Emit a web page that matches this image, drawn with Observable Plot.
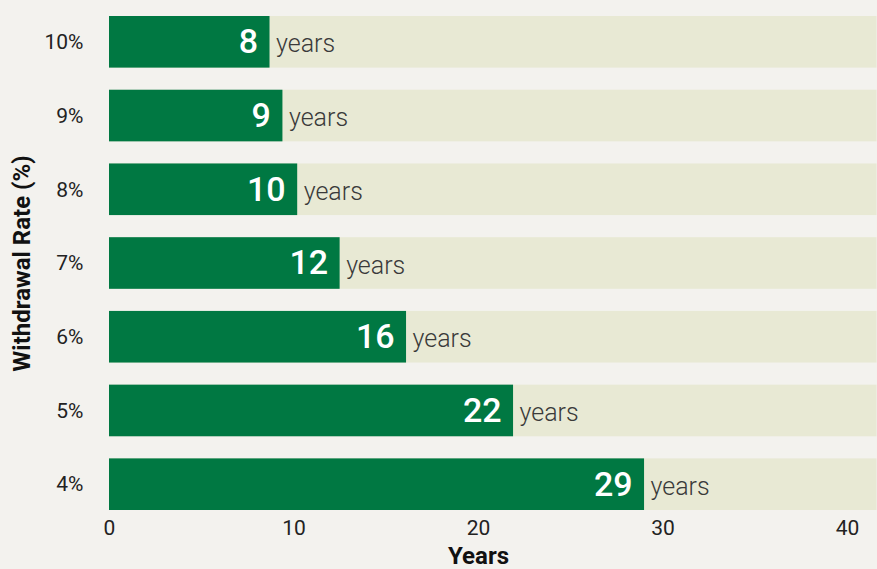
<!DOCTYPE html>
<html>
<head>
<meta charset="utf-8">
<script src="https://cdn.jsdelivr.net/npm/d3@7"></script>
<script src="https://cdn.jsdelivr.net/npm/@observablehq/plot@0.6"></script>
<style>
  html, body { margin: 0; padding: 0; background: #f3f2ee; }
  #chart svg { display: block; }
</style>
</head>
<body>
<div id="chart"></div>
<script>
// Withdrawal rates (top to bottom)
const rates = ["10%", "9%", "8%", "7%", "6%", "5%", "4%"];
// Years until depletion (bar lengths)
const years = [8.7, 9.4, 10.2, 12.5, 16.1, 21.9, 29.0];
// Printed labels
const yearLabels = ["8", "9", "10", "12", "16", "22", "29"];
// Axis ticks
const xTicks = [0, 10, 20, 30, 40];
const xMax = 41.6; // extent of the light background track

const data = rates.map((r, i) => ({rate: r, years: years[i], label: yearLabels[i]}));

const chart = Plot.plot({
  width: 877,
  height: 569,
  marginTop: 16,
  marginBottom: 59,
  marginLeft: 109,
  marginRight: 30,
  style: {background: "#f3f2ee", fontFamily: "Roboto, sans-serif", color: "#222"},
  x: {domain: [0, 40], ticks: xTicks},
  y: {domain: rates, paddingInner: 0.3, paddingOuter: 0, round: false},
  marks: [
    Plot.barX(data, {y: "rate", x1: 0, x2: () => xMax, fill: "#e8e9d4"}),
    Plot.barX(data, {y: "rate", x1: 0, x2: "years", fill: "#007842"}),
    Plot.text(data, {y: "rate", x: "years", text: "label", textAnchor: "end", dx: -12, fill: "white", fontSize: 34, fontWeight: 500}),
    Plot.text(data, {y: "rate", x: "years", text: () => "years", textAnchor: "start", dx: 6, dy: 2, fill: "#3a3a3a", fontSize: 25, fontWeight: 300}),
    Plot.axisX({ticks: xTicks, tickSize: 0, tickPadding: 10, fontSize: 21, label: null, tickFormat: d => d}),
    Plot.axisY({tickSize: 0, tickPadding: 26, fontSize: 21, label: null}),
    Plot.text(["Years"], {frameAnchor: "bottom", dy: 53, fontSize: 24, fontWeight: 700, fill: "#111"}),
    Plot.text(["Withdrawal Rate (%)"], {frameAnchor: "left", textAnchor: "middle", rotate: -90, dx: -87, fontSize: 24, fontWeight: 700, fill: "#111"})
  ]
});
document.getElementById("chart").appendChild(chart);
</script>
</body>
</html>
